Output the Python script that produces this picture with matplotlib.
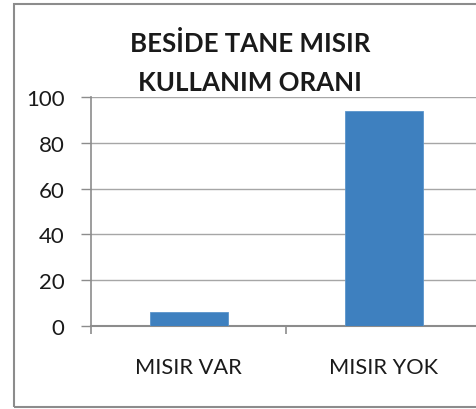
import matplotlib
matplotlib.use("Agg")
import matplotlib.pyplot as plt
from matplotlib.patches import Rectangle

# data
categories = ["MISIR VAR", "MISIR YOK"]
values = [6, 94]
y_ticks = [0, 20, 40, 60, 80, 100]
title = "BESİDE TANE MISIR\nKULLANIM ORANI"

plt.rcParams["font.family"] = ["Lato", "DejaVu Sans"]

fig = plt.figure(figsize=(4.76, 4.10), dpi=100)
fig.patch.set_facecolor("white")

# outer chart border (right side runs off the picture)
fig.patches.append(Rectangle((14 / 476, 2 / 410), 1.2, 403 / 410,
                             transform=fig.transFigure, fill=False,
                             edgecolor="#8c8c8c", linewidth=1.5))

ax = fig.add_axes([91 / 476, 83 / 410, 390 / 476, 229 / 410])
x = list(range(len(categories)))
ax.bar(x, values, width=0.4, color="#3e80bf", edgecolor="#5b95cc",
       linewidth=0.6, zorder=3)

ax.set_xlim(-0.5, 1.5)
ax.set_ylim(0, 100)
ax.set_yticks(y_ticks)
ax.grid(axis="y", color="#a6a6a6", linewidth=1.0, zorder=0)

ax.set_xticks(x)
ax.set_xticklabels(categories, fontsize=15.7, color="#1a1a1a")
ax.set_xticks([-0.5, 0.5, 1.5], minor=True)
ax.tick_params(axis="x", which="major", length=0, pad=22)
ax.tick_params(axis="x", which="minor", length=6, color="#8c8c8c",
               width=1.2)
ax.tick_params(axis="y", length=7, color="#8c8c8c", width=1.0,
               labelsize=16, labelcolor="#1a1a1a", pad=12)

for side in ["top", "right"]:
    ax.spines[side].set_visible(False)
ax.spines["left"].set_color("#8c8c8c")
ax.spines["bottom"].set_color("#8c8c8c")
ax.spines["left"].set_linewidth(1.2)
ax.spines["bottom"].set_linewidth(1.5)

fig.text(250 / 476, 1 - 63 / 410, title, ha="center", va="center",
         fontsize=18.6, fontweight="bold", color="#1a1a1a", linespacing=1.75)

fig.savefig("out.png", dpi=100)
